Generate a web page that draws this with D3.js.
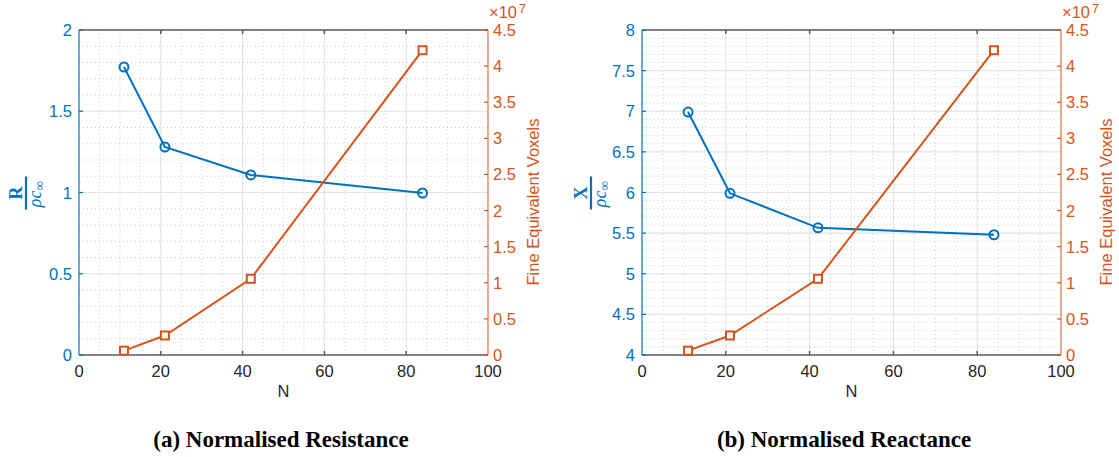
<!DOCTYPE html>
<html>
<head>
<meta charset="utf-8">
<script src="https://cdn.jsdelivr.net/npm/d3@7"></script>
<style>
  html, body { margin: 0; padding: 0; background: #fff; }
  svg { display: block; font-family: "Liberation Sans", Arial, Helvetica, sans-serif; }
</style>
</head>
<body>
<svg id="chart" width="1119" height="457"></svg>
<script>
// Mesh size N used in each run
const nValues = [11, 21, 42, 84];
// Normalised resistance R / (rho c_inf)
const resistance = [1.772, 1.28, 1.108, 0.997];
// Normalised reactance X / (rho c_inf)
const reactance = [6.99, 5.99, 5.565, 5.48];
// Fine equivalent voxel count
const voxels = [0.6e6, 2.7e6, 10.55e6, 42.2e6];

const xTicks = [0, 20, 40, 60, 80, 100];
const resistanceTicks = [0, 0.5, 1, 1.5, 2];
const reactanceTicks = [4, 4.5, 5, 5.5, 6, 6.5, 7, 7.5, 8];
const voxelTicks = [0, 0.5, 1, 1.5, 2, 2.5, 3, 3.5, 4, 4.5];

const BLUE = "#0072BD";
const ORANGE = "#D95319";
const TEXT = "#262626";
const SERIF = "'Liberation Serif', 'Times New Roman', serif";
const FS = "16.5px";

const svg = d3.select("#chart");

function fmt(v) { return String(v); }

function drawPanel(p) {
  const top = 30, bottom = 355;
  const x = d3.scaleLinear().domain([0, 100]).range([p.left, p.right]);
  const y = d3.scaleLinear().domain(p.yDomain).range([bottom, top]);
  const y2 = d3.scaleLinear().domain([0, 4.5]).range([bottom, top]);
  const g = svg.append("g");

  // minor grid
  const minorX = d3.range(5, 100, 5).filter(v => v % 20 !== 0);
  g.selectAll(".mx").data(minorX).join("line")
    .attr("x1", d => x(d)).attr("x2", d => x(d))
    .attr("y1", top).attr("y2", bottom)
    .attr("stroke", "#c9c9c9").attr("stroke-width", 1)
    .attr("stroke-dasharray", "1,3");
  const span = p.yDomain[1] - p.yDomain[0];
  const nMinor = Math.round(span / p.minorStep);
  const minorY = d3.range(1, nMinor).map(i => p.yDomain[0] + i * p.minorStep)
    .filter(v => Math.abs(v / 0.5 - Math.round(v / 0.5)) > 1e-6);
  g.selectAll(".my").data(minorY).join("line")
    .attr("x1", p.left).attr("x2", p.right)
    .attr("y1", d => y(d)).attr("y2", d => y(d))
    .attr("stroke", "#b3d2ea").attr("stroke-width", 1)
    .attr("stroke-dasharray", "1,3");

  // major grid
  g.selectAll(".gx").data(xTicks.slice(1, -1)).join("line")
    .attr("x1", d => x(d)).attr("x2", d => x(d))
    .attr("y1", top).attr("y2", bottom)
    .attr("stroke", "#e4e4e4").attr("stroke-width", 1.2);
  g.selectAll(".gy").data(p.yTicks.slice(1, -1)).join("line")
    .attr("x1", p.left).attr("x2", p.right)
    .attr("y1", d => y(d)).attr("y2", d => y(d))
    .attr("stroke", "#dbe6ef").attr("stroke-width", 1.2);

  // top and bottom axis lines with ticks
  [top, bottom].forEach((yy, i) => {
    g.append("line").attr("x1", p.left).attr("x2", p.right)
      .attr("y1", yy).attr("y2", yy)
      .attr("stroke", "#5a5a5a").attr("stroke-width", 1.5);
    g.selectAll(null).data(xTicks.slice(1, -1)).join("line")
      .attr("x1", d => x(d)).attr("x2", d => x(d))
      .attr("y1", yy).attr("y2", i === 0 ? yy + 4 : yy - 4)
      .attr("stroke", "#5a5a5a").attr("stroke-width", 1.5);
  });

  // left axis
  g.append("line").attr("x1", p.left).attr("x2", p.left)
    .attr("y1", top).attr("y2", bottom)
    .attr("stroke", BLUE).attr("stroke-width", 1.2);
  g.selectAll(null).data(p.yTicks).join("text")
    .attr("x", p.left - 7).attr("y", d => y(d) + 6)
    .attr("text-anchor", "end").style("font-size", FS)
    .attr("fill", BLUE).text(fmt);
  g.selectAll(null).data(p.yTicks).join("line")
    .attr("x1", p.left).attr("x2", p.left + 4)
    .attr("y1", d => y(d)).attr("y2", d => y(d))
    .attr("stroke", BLUE).attr("stroke-width", 1.2);

  // right axis
  g.append("line").attr("x1", p.right).attr("x2", p.right)
    .attr("y1", top).attr("y2", bottom)
    .attr("stroke", ORANGE).attr("stroke-width", 1.2).attr("opacity", 0.8);
  g.selectAll(null).data(voxelTicks).join("line")
    .attr("x1", p.right).attr("x2", p.right - 4)
    .attr("y1", d => y2(d)).attr("y2", d => y2(d))
    .attr("stroke", ORANGE).attr("stroke-width", 1.2);
  g.selectAll(null).data(voxelTicks).join("text")
    .attr("x", p.right + 5).attr("y", d => y2(d) + 6)
    .attr("text-anchor", "start").style("font-size", FS)
    .attr("fill", ORANGE).text(fmt);
  // exponent multiplier for the right axis
  g.append("text").attr("x", p.right + 1).attr("y", 17.5)
    .style("font-size", "16.5px").attr("fill", ORANGE).text("×10");
  g.append("text").attr("x", p.right + 31).attr("y", 12.5)
    .style("font-size", "12.5px").attr("fill", ORANGE).text("7");

  // x tick labels and title
  g.selectAll(null).data(xTicks).join("text")
    .attr("x", d => x(d)).attr("y", 377)
    .attr("text-anchor", "middle").style("font-size", FS)
    .attr("fill", TEXT).text(fmt);
  g.append("text").attr("x", (p.left + p.right) / 2).attr("y", 397)
    .attr("text-anchor", "middle").style("font-size", FS)
    .attr("fill", TEXT).text("N");

  // left y label: fraction
  const fr = g.append("g")
    .attr("transform", `translate(${p.left - p.fracOffset},193) rotate(-90)`)
    .attr("fill", BLUE);
  fr.append("line").attr("x1", -16.5).attr("x2", 16.5).attr("y1", 0).attr("y2", 0)
    .attr("stroke", BLUE).attr("stroke-width", 2.2);
  fr.append("text").attr("x", 0).attr("y", -4)
    .attr("text-anchor", "middle")
    .style("font-size", "18px").style("font-family", SERIF).style("font-weight", "bold")
    .text(p.symbol);
  const den = fr.append("text").attr("x", -1).attr("y", 15)
    .attr("text-anchor", "middle")
    .style("font-size", "18px").style("font-family", SERIF).style("font-style", "italic");
  den.append("tspan").text("ρc");
  den.append("tspan").attr("dy", 3).style("font-size", "13.5px").style("font-style", "normal").text("∞");

  // right y label
  g.append("text")
    .attr("transform", `translate(${p.right + 51},202) rotate(-90)`)
    .attr("text-anchor", "middle").style("font-size", FS)
    .attr("fill", ORANGE).text("Fine Equivalent Voxels");

  // series: blue (left axis)
  const pts = nValues.map((n, i) => [n, p.values[i]]);
  g.append("path").datum(pts)
    .attr("d", d3.line().x(d => x(d[0])).y(d => y(d[1])))
    .attr("fill", "none").attr("stroke", BLUE).attr("stroke-width", 2);
  g.selectAll(null).data(pts).join("circle")
    .attr("cx", d => x(d[0])).attr("cy", d => y(d[1])).attr("r", 4.5)
    .attr("fill", "none").attr("stroke", BLUE).attr("stroke-width", 2);

  // series: orange (right axis, ×10^7)
  const vpts = nValues.map((n, i) => [n, voxels[i] / 1e7]);
  g.append("path").datum(vpts)
    .attr("d", d3.line().x(d => x(d[0])).y(d => y2(d[1])))
    .attr("fill", "none").attr("stroke", ORANGE).attr("stroke-width", 2);
  g.selectAll(null).data(vpts).join("rect")
    .attr("x", d => x(d[0]) - 4).attr("y", d => y2(d[1]) - 4)
    .attr("width", 8).attr("height", 8)
    .attr("fill", "#fff").attr("stroke", ORANGE).attr("stroke-width", 2);

  // caption
  g.append("text").attr("x", p.captionX).attr("y", 447)
    .attr("text-anchor", "middle")
    .style("font-size", "23px").style("font-family", SERIF).style("font-weight", "bold")
    .attr("fill", "#000").text(p.caption);
}

drawPanel({
  left: 79, right: 488, yDomain: [0, 2], yTicks: resistanceTicks, minorStep: 0.1,
  values: resistance, symbol: "R", fracOffset: 53,
  caption: "(a) Normalised Resistance", captionX: 281
});
drawPanel({
  left: 642, right: 1061, yDomain: [4, 8], yTicks: reactanceTicks, minorStep: 0.1,
  values: reactance, symbol: "X", fracOffset: 51,
  caption: "(b) Normalised Reactance", captionX: 844
});
</script>
</body>
</html>
